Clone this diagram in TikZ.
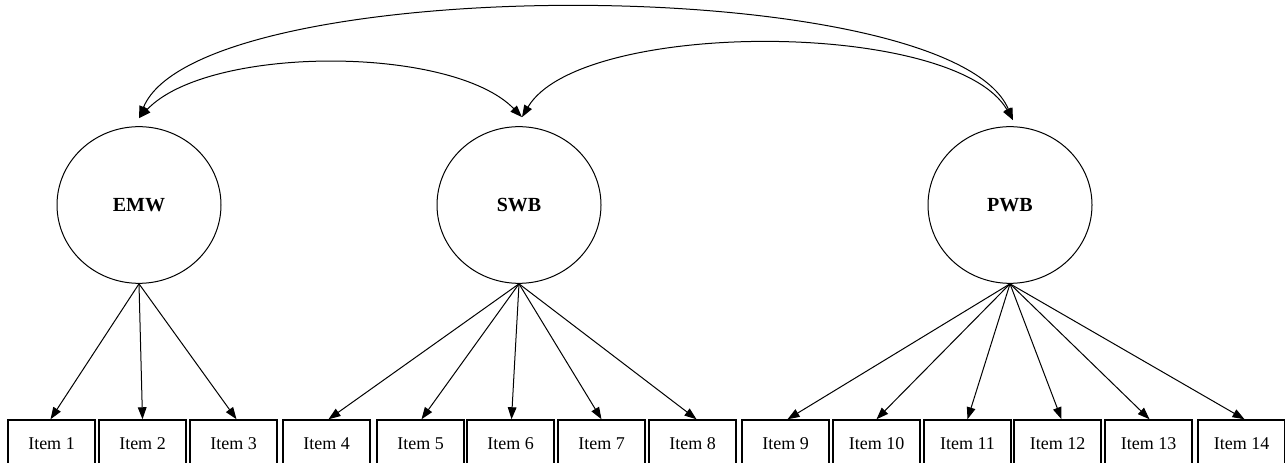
\documentclass[tikz,border=0pt]{standalone}
\usepackage{fontspec}
\setmainfont{Liberation Serif}
\usetikzlibrary{arrows.meta,shapes.geometric,calc}
\begin{document}
\begin{tikzpicture}[x=0.75pt,y=-0.75pt,
  latent/.style={draw,line width=0.75pt,ellipse,minimum width=123pt,minimum height=117.5pt,
    font=\fontsize{15}{17}\selectfont\bfseries},
  itembox/.style={draw,line width=1.1pt,rectangle,minimum width=65pt,minimum height=36pt,
    inner sep=0pt,font=\fontsize{13.5}{15}\selectfont},
  load/.style={line width=0.75pt,-{Triangle[length=9pt,width=6.5pt]}},
  cov/.style={line width=0.75pt,{Triangle[length=9pt,width=6.5pt]}-{Triangle[length=9pt,width=6.5pt]}}]
\useasboundingbox (0,0) rectangle (1285,463);
\clip (0,0) rectangle (1285,463);
\node[latent] (emw) at (139,205) {EMW};
\node[latent] (swb) at (519,205) {SWB};
\node[latent] (pwb) at (1010,205) {PWB};
\foreach \i/\x in {1/51.5,2/142.5,3/233.5,4/326.5,5/420.5,6/510.5,7/601.5,8/692.5,9/785.5,10/876.5,11/967.5,12/1057.5,13/1148.5,14/1241.5}
  \node[itembox] (i\i) at (\x,444) {Item \i};
\foreach \i/\d in {1/-1,2/0,3/3}
  \draw[load] (emw.south) -- ($(i\i.north)+(\d,0)$);
\foreach \i/\d in {4/2,5/1,6/1,7/0,8/4}
  \draw[load] (swb.south) -- ($(i\i.north)+(\d,0)$);
\foreach \i/\d in {9/2,10/0,11/0,12/4,13/1,14/3}
  \draw[load] (pwb.south) -- ($(i\i.north)+(\d,0)$);
\coordinate (emwT) at ($(emw.north)+(0,-8)$);
\coordinate (swbT) at ($(swb.north)+(3,-9)$);
\coordinate (pwbT) at ($(pwb.north)+(3,-6)$);
\draw[cov] (emwT) .. controls (208,45) and (452,45) .. (swbT);
\draw[cov] (swbT) .. controls (580,19) and (955,19) .. (pwbT);
\draw[cov] (emwT) .. controls (200,-29) and (950,-29) .. (pwbT);
\end{tikzpicture}
\end{document}
